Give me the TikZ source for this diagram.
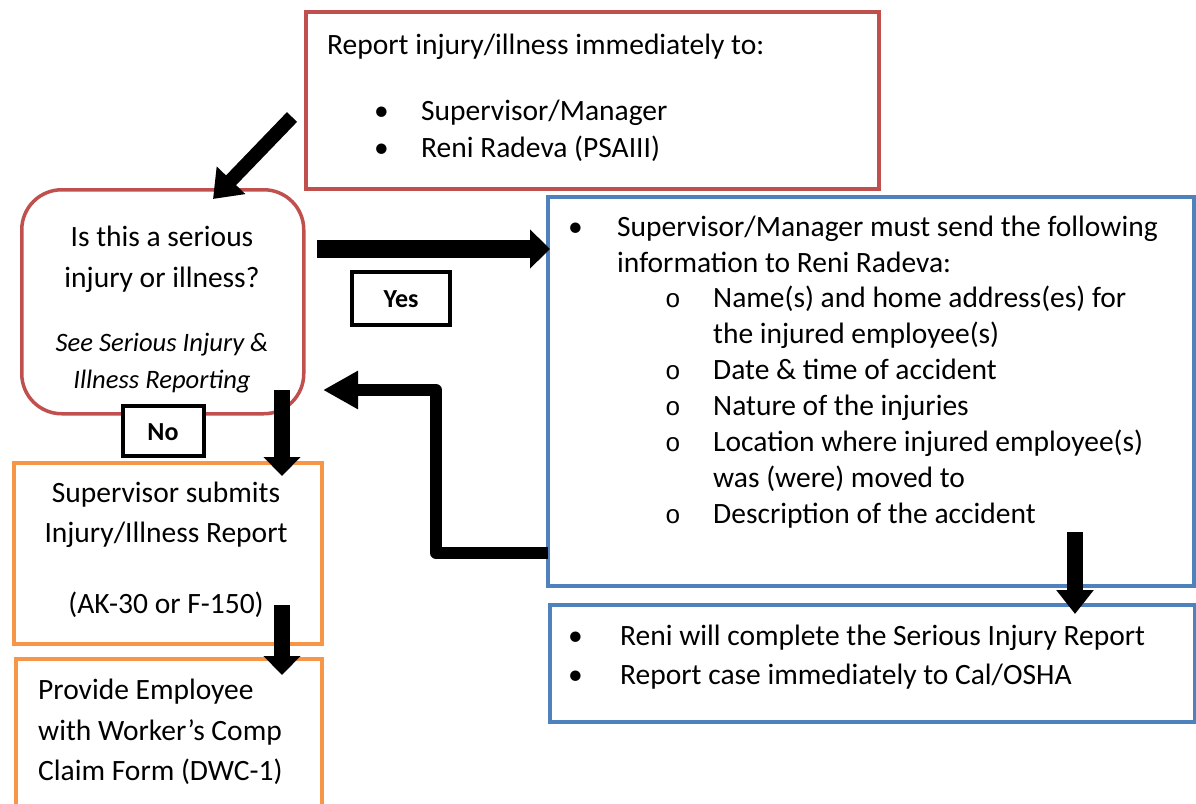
\documentclass[tikz,border=0pt]{standalone}
\usepackage{fontspec}
\setmainfont{Carlito}
\newfontfamily\bulletmono{Liberation Mono}
\usetikzlibrary{arrows.meta}
\definecolor{accred}{HTML}{C0504D}
\definecolor{accblue}{HTML}{4F81BD}
\definecolor{accorange}{HTML}{F79646}
\begin{document}
\begin{tikzpicture}[x=1pt,y=-1pt,
  box/.style={draw, fill=white, inner sep=0pt, anchor=north west},
  redbox/.style={box, draw=accred, line width=3.5pt},
  bluebox/.style={box, draw=accblue, line width=3.5pt},
  orangebox/.style={box, draw=accorange, line width=4pt},
  lbl/.style={draw=black, fill=white, line width=4pt, inner sep=0pt, font=\fontsize{26}{30}\selectfont\bfseries},
  txt/.style={inner sep=0pt, anchor=base west, font=\fontsize{29.5}{36}\selectfont},
  ctxt/.style={txt, anchor=base},
  itxt/.style={inner sep=0pt, anchor=base, font=\fontsize{26.6}{32}\selectfont\itshape},
  subb/.style={txt, font=\fontsize{26}{30}\selectfont\bulletmono},
  blk/.style={draw=black, line cap=butt}
]
\useasboundingbox (0,0) rectangle (1196,803);
% boxes
\node[redbox, minimum width=573pt, minimum height=177pt] (top) at (304,10) {};
\node[redbox, rounded corners=40pt, minimum width=282pt, minimum height=224pt] (rb) at (20,188) {};
\node[bluebox, minimum width=646pt, minimum height=389pt] (b1) at (546,195) {};
\node[bluebox, minimum width=645pt, minimum height=117pt] (b2) at (548,603) {};
\node[orangebox, minimum width=308pt, minimum height=181pt] (o1) at (12,461) {};
\node[orangebox, minimum width=306pt, minimum height=160pt] (o2) at (14,657) {};
% top box text
\node[txt] (t1) at (327,54) {Report injury/illness immediately to:};
\node[txt] (t2b) at (374,120) {•};
\node[txt] (t2) at (421,120) {Supervisor/Manager};
\node[txt] (t3b) at (374,157) {•};
\node[txt] (t3) at (421,157) {Reni Radeva (PSAIII)};
% rounded box text
\node[ctxt] (q1) at (162,246) {Is this a serious};
\node[ctxt] (q2) at (162,287) {injury or illness?};
\node[itxt] (q3) at (162,351) {See Serious Injury \&};
\node[itxt] (q4) at (162,388) {Illness Reporting};
% blue box 1 text
\node[txt] (s0b) at (568,236) {•};
\node[txt] (s1) at (617,236) {Supervisor/Manager must send the following};
\node[txt] (s2) at (617,272) {information to Reni Radeva:};
\foreach \yy/\tt [count=\i] in {307/{Name(s) and home address(es) for},379/{Date \& time of accident},415/{Nature of the injuries},451/{Location where injured employee(s)},523/{Description of the accident}}{
  \node[subb] (sb\i) at (665,\yy) {o};
  \node[txt] (si\i) at (713,\yy) {\tt};
}
\node[txt] (sc1) at (713,343) {the injured employee(s)};
\node[txt] (sc2) at (713,487) {was (were) moved to};
% blue box 2 text
\node[txt] (r1b) at (568,645) {•};
\node[txt] (r1) at (620,645) {Reni will complete the Serious Injury Report};
\node[txt] (r2b) at (568,684) {•};
\node[txt] (r2) at (620,684) {Report case immediately to Cal/OSHA};
% orange texts
\node[ctxt] (p1) at (166,502) {Supervisor submits};
\node[ctxt] (p2) at (166,542) {Injury/Illness Report};
\node[ctxt] (p3) at (166,613) {(AK-30 or F-150)};
\node[txt] (c1) at (38,699) {Provide Employee};
\node[txt] (c2) at (38,740) {with Worker’s Comp};
\node[txt] (c3) at (38,780) {Claim Form (DWC-1)};
% arrows
\coordinate (d0) at (292,117);
\coordinate (d1) at (213,199);
\draw[blk, line width=14pt, -{Triangle[width=38pt,length=26pt]}] (d0) -- (d1);
\coordinate (y0) at (317,249);
\coordinate (y1) at (b1.west |- y0);
\draw[blk, line width=18pt, -{Triangle[width=38pt,length=20pt]}] (y0) -- ([xshift=4pt]y1);
\coordinate (n0) at (282,390);
\coordinate (n1) at (282,476);
\draw[blk, line width=16pt, -{Triangle[width=36pt,length=19pt]}] (n0) -- (n1);
\coordinate (ra) at (b1.west |- 0,553);
\coordinate (rz) at (323,390);
\draw[blk, line width=12pt, line join=round, -{Triangle[width=36pt,length=35pt]}] ([xshift=2pt]ra) -- (436,553) -- (436,390) -- (rz);
\coordinate (bd0) at (1075,532);
\coordinate (bd1) at (1075,614);
\draw[blk, line width=16pt, -{Triangle[width=36pt,length=24pt]}] (bd0) -- (bd1);
\coordinate (od0) at (282,605);
\coordinate (od1) at (282,675);
\draw[blk, line width=16pt, -{Triangle[width=36pt,length=19pt]}] (od0) -- (od1);
% labels
\node[lbl, minimum width=98pt, minimum height=53pt, text depth=0pt, text height=18pt] (yes) at (401,298) {Yes};
\node[lbl, minimum width=81pt, minimum height=50pt, text depth=0pt, text height=18pt] (no) at (163,431) {No};
\end{tikzpicture}
\end{document}
